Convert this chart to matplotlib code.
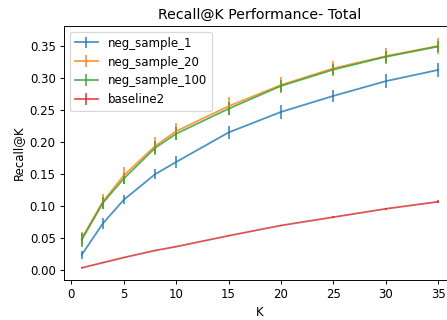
import numpy as np
import matplotlib
matplotlib.use('Agg')
import matplotlib.pyplot as plt

# K values
k = [1, 3, 5, 8, 10, 15, 20, 25, 30, 35]

# recall@K values
neg1 = [0.0245, 0.073, 0.110, 0.150, 0.169, 0.215, 0.247, 0.272, 0.295, 0.3125]
neg1_err = [0.006, 0.008, 0.007, 0.008, 0.009, 0.010, 0.011, 0.010, 0.011, 0.011]

neg20 = [0.050, 0.107, 0.148, 0.194, 0.217, 0.256, 0.289, 0.315, 0.334, 0.350]
neg20_err = [0.010, 0.012, 0.013, 0.014, 0.013, 0.014, 0.013, 0.012, 0.012, 0.013]

neg100 = [0.048, 0.105, 0.143, 0.191, 0.213, 0.252, 0.2875, 0.313, 0.333, 0.349]
neg100_err = [0.011, 0.010, 0.009, 0.010, 0.010, 0.010, 0.009, 0.009, 0.009, 0.009]

base2 = [0.004, 0.012, 0.020, 0.031, 0.037, 0.054, 0.070, 0.083, 0.096, 0.107]
base2_err = [0.001, 0.001, 0.001, 0.001, 0.001, 0.001, 0.001, 0.002, 0.002, 0.002]

DPI = 85
fig = plt.figure(figsize=(447 / DPI, 320 / DPI), dpi=DPI)
ax = fig.add_axes([64 / 447, 40 / 320, 392 / 447, 254 / 320])

ax.errorbar(k, neg1, yerr=neg1_err, label='neg_sample_1', alpha=0.8)
ax.errorbar(k, neg20, yerr=neg20_err, label='neg_sample_20', alpha=0.8)
ax.errorbar(k, neg100, yerr=neg100_err, label='neg_sample_100', alpha=0.8)
ax.errorbar(k, base2, yerr=base2_err, label='baseline2', alpha=0.8)

ax.set_xlabel('K')
ax.set_ylabel('Recall@K')
ax.set_title('Recall@K Performance- Total')
ax.legend(loc='upper left')

fig.savefig('out.png', dpi=DPI)
